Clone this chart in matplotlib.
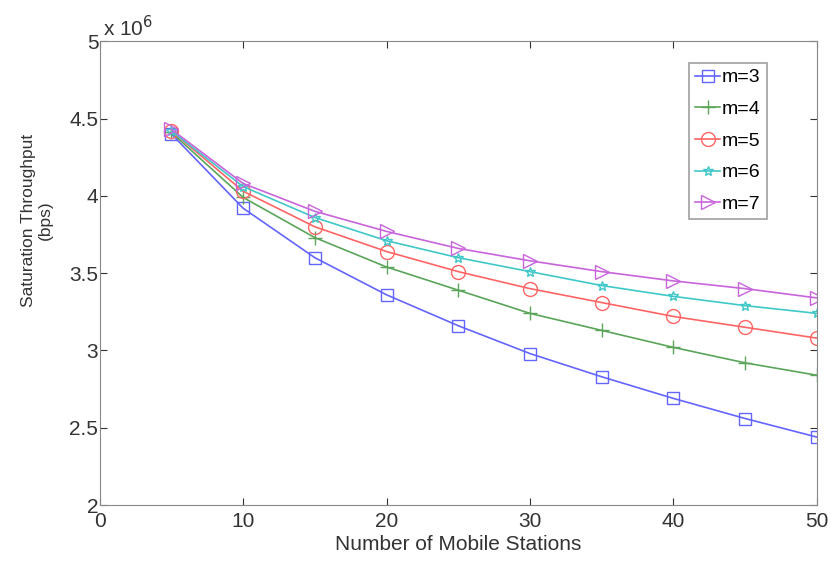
import matplotlib.pyplot as plt

plt.rcParams['font.family'] = ['Liberation Sans', 'DejaVu Sans']

stations = [5, 10, 15, 20, 25, 30, 35, 40, 45, 50]
# saturation throughput, in units of 1e6 bps
thr_m3 = [4.40, 3.92, 3.60, 3.36, 3.16, 2.98, 2.83, 2.69, 2.56, 2.44]
thr_m4 = [4.41, 3.99, 3.73, 3.54, 3.39, 3.24, 3.13, 3.02, 2.92, 2.84]
thr_m5 = [4.42, 4.03, 3.80, 3.64, 3.51, 3.40, 3.31, 3.22, 3.15, 3.08]
thr_m6 = [4.42, 4.06, 3.86, 3.71, 3.60, 3.51, 3.42, 3.35, 3.29, 3.24]
thr_m7 = [4.43, 4.08, 3.90, 3.77, 3.66, 3.58, 3.51, 3.45, 3.40, 3.34]
labels = ['m=3', 'm=4', 'm=5', 'm=6', 'm=7']

fig = plt.figure(figsize=(8.31, 5.65), dpi=100)
ax = fig.add_axes([0.120, 0.106, 0.863, 0.821])

series = [thr_m3, thr_m4, thr_m5, thr_m6, thr_m7]
colors = ['#6464ff', '#5aa55a', '#ff6464', '#40c8c8', '#c864dc']
markers = ['s', '+', 'o', '*', '>']
sizes = [8, 10, 10, 7, 10]
for ys, c, mk, ms, lab in zip(series, colors, markers, sizes, labels):
    ax.plot(stations, ys, color=c, marker=mk, markersize=ms, markerfacecolor='none',
            markeredgecolor=c, linewidth=1.2, label=lab)

ax.set_xlim(0, 50)
ax.set_ylim(2, 5)
ax.set_xticks(range(0, 51, 10))
ax.set_yticks([2, 2.5, 3, 3.5, 4, 4.5, 5])
ax.set_yticklabels(['2', '2.5', '3', '3.5', '4', '4.5', '5'])
ax.tick_params(direction='in', labelsize=15, colors='#333333', top=True, right=True,
               length=5)
ax.tick_params(axis='x', pad=5)
ax.tick_params(axis='y', pad=1)
for s in ax.spines.values():
    s.set_color('#888888')

ax.text(0.005, 1.003, r'x 10$^6$', transform=ax.transAxes, fontsize=15, color='#333333',
        ha='left', va='bottom')
ax.set_xlabel('Number of Mobile Stations', fontsize=15, color='#333333')
ax.xaxis.set_label_coords(0.5, -0.065)
ax.set_ylabel('Saturation Throughput\n(bps)', fontsize=12.5, color='#333333',
              linespacing=1.1)
ax.yaxis.set_label_coords(-0.066, 0.614)

leg = ax.legend(loc='upper right', bbox_to_anchor=(0.93, 0.953), fontsize=14,
                fancybox=False, handlelength=1.3, handletextpad=0.1, borderpad=0.3,
                labelspacing=0.72, borderaxespad=0)
leg.get_frame().set_edgecolor('#888888')
leg.get_frame().set_linewidth(1.2)

plt.savefig('out.png')
